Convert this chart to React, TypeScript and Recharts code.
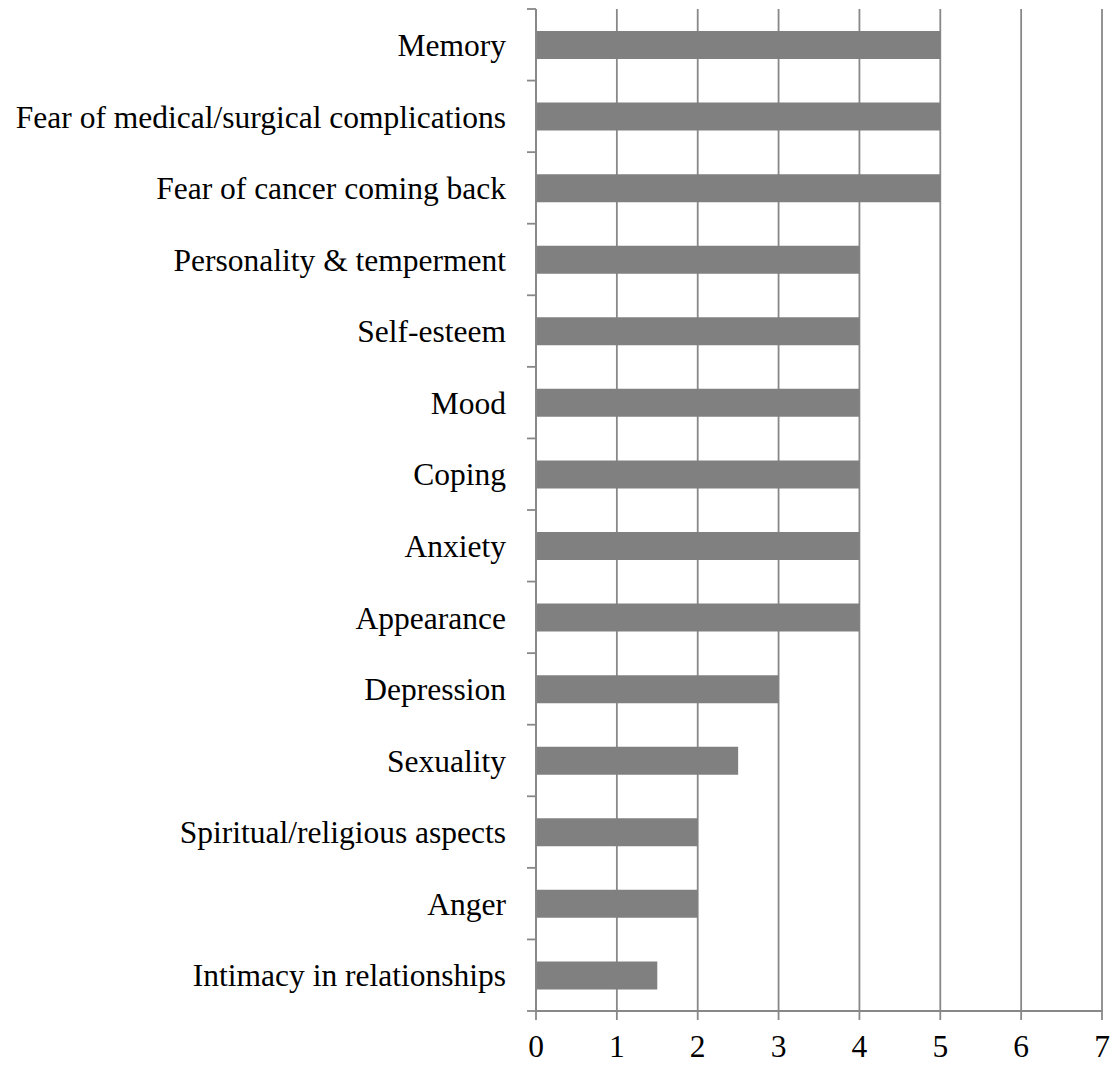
import { BarChart, Bar, XAxis, YAxis, CartesianGrid } from "recharts";

const categories = [
    "Memory",
    "Fear of medical/surgical complications",
    "Fear of cancer coming back",
    "Personality & temperment",
    "Self-esteem",
    "Mood",
    "Coping",
    "Anxiety",
    "Appearance",
    "Depression",
    "Sexuality",
    "Spiritual/religious aspects",
    "Anger",
    "Intimacy in relationships",
];

const values = [5, 5, 5, 4, 4, 4, 4, 4, 4, 3, 2.5, 2, 2, 1.5];

const xTicks = [0, 1, 2, 3, 4, 5, 6, 7];

const data = categories.map((name, i) => ({ name, value: values[i] }));

const lineColor = "#888888";
const font = "'Liberation Serif', 'Times New Roman', serif";
const labelGap = 30;
const edgeTick = 9;

// label plus the small tick marks sitting on the band edges, like Excel does
function CategoryTick(props: any) {
    const { x, y, payload, index } = props;
    const half = payload?.offset ?? 0;
    const axisX = x + labelGap;
    const isLast = index === categories.length - 1;
    return (
        <g>
            <line x1={axisX - edgeTick} x2={axisX} y1={y - half} y2={y - half} stroke={lineColor} strokeWidth={1.8} />
            {isLast && (
                <line x1={axisX - edgeTick} x2={axisX} y1={y + half} y2={y + half} stroke={lineColor} strokeWidth={1.8} />
            )}
            <text x={x} y={y} dy="0.355em" textAnchor="end" fill="#000" fontSize={31.5} fontFamily={font}>
                {payload.value}
            </text>
        </g>
    );
}

export default function App() {
    return (
        <div style={{ position: "absolute", left: 0, top: 0, background: "#fff" }}>
            <BarChart
                width={1120}
                height={1065}
                data={data}
                layout="vertical"
                margin={{ top: 9, right: 18, left: 6, bottom: 0 }}
            >
                <CartesianGrid horizontal={false} stroke={lineColor} strokeWidth={1.8} />
                <XAxis
                    type="number"
                    domain={[0, 7]}
                    ticks={xTicks}
                    interval={0}
                    height={54}
                    tickSize={9}
                    tickMargin={15}
                    stroke={lineColor}
                    axisLine={{ stroke: lineColor, strokeWidth: 1.8 }}
                    tickLine={{ stroke: lineColor, strokeWidth: 1.8 }}
                    tick={{ fill: "#000", fontSize: 31.5, fontFamily: font }}
                />
                <YAxis
                    type="category"
                    dataKey="name"
                    width={530}
                    interval={0}
                    tickLine={false}
                    tickSize={0}
                    tickMargin={labelGap}
                    axisLine={{ stroke: lineColor, strokeWidth: 1.8 }}
                    tick={<CategoryTick />}
                />
                <Bar dataKey="value" fill="#808080" barSize={28} isAnimationActive={false} />
            </BarChart>
        </div>
    );
}
